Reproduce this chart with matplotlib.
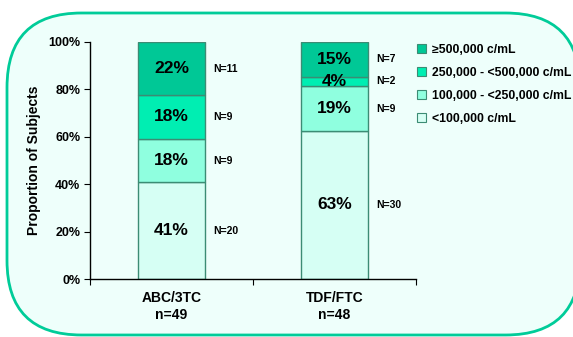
import matplotlib
matplotlib.use("Agg")
import matplotlib.pyplot as plt
from matplotlib.patches import FancyBboxPatch, Patch
import numpy as np

plt.rcParams['font.family'] = ['Liberation Sans', 'DejaVu Sans']
plt.rcParams['font.weight'] = 'bold'

groups = ["ABC/3TC\nn=49", "TDF/FTC\nn=48"]
group_n = [49, 48]
categories = ["<100,000 c/mL", "100,000 - <250,000 c/mL",
              "250,000 - <500,000 c/mL", "\u2265500,000 c/mL"]
counts = {
    "<100,000 c/mL": [20, 30],
    "100,000 - <250,000 c/mL": [9, 9],
    "250,000 - <500,000 c/mL": [9, 2],
    "\u2265500,000 c/mL": [11, 7],
}
pct_labels = {
    "<100,000 c/mL": ["41%", "63%"],
    "100,000 - <250,000 c/mL": ["18%", "19%"],
    "250,000 - <500,000 c/mL": ["18%", "4%"],
    "\u2265500,000 c/mL": ["22%", "15%"],
}
yticks = [0, 20, 40, 60, 80, 100]
ytick_labels = ["0%", "20%", "40%", "60%", "80%", "100%"]

colors = {
    "<100,000 c/mL": "#D6FFF4",
    "100,000 - <250,000 c/mL": "#8FFFDF",
    "250,000 - <500,000 c/mL": "#00EEB2",
    "\u2265500,000 c/mL": "#00C896",
}
edge = "#3C8C74"

W, H = 573, 337
fig = plt.figure(figsize=(W / 100, H / 100), dpi=100)
fig.patch.set_facecolor("white")

# rounded panel
panel = FancyBboxPatch((7 / W, 1 - 335 / H), (580 - 7) / W, (335 - 13) / H,
                       boxstyle="round,pad=0,rounding_size=0.13",
                       transform=fig.transFigure, facecolor="#EEFFFB",
                       edgecolor="#00CC99", linewidth=2.0, zorder=-10,
                       mutation_aspect=W / H)
fig.patches.append(panel)

ax = fig.add_axes([90 / W, 1 - 279 / H, (416 - 90) / W, (279 - 42) / H])
ax.set_facecolor("none")
ax.set_zorder(1)

x = np.array([0.5, 1.5])
bottom = np.zeros(2)
for cat in categories:
    vals = np.array(counts[cat]) / np.array(group_n) * 100
    ax.bar(x, vals, width=0.405, bottom=bottom, color=colors[cat],
           edgecolor=edge, linewidth=1.0, label=cat, zorder=2)
    for i in range(2):
        yc = bottom[i] + vals[i] / 2
        ax.text(x[i], yc, pct_labels[cat][i], ha="center", va="center",
                fontsize=12.5, fontweight="bold", zorder=3)
        ax.annotate(f"N={counts[cat][i]}", xy=(x[i] + 0.2025, yc),
                    xytext=(6, 0), textcoords="offset points",
                    ha="left", va="center", fontsize=7.5, fontweight="bold")
    bottom = bottom + vals

ax.set_xlim(0, 2)
ax.set_ylim(0, 100)
ax.set_yticks(yticks)
ax.set_yticklabels(ytick_labels, fontsize=9, fontweight="bold")
ax.set_xticks([0, 1, 2])
ax.set_xticklabels([])
ax.set_xticks(x, minor=True)
ax.set_xticklabels(groups, minor=True, fontsize=10, fontweight="bold")
ax.tick_params(axis="x", which="minor", length=0, pad=9)
ax.tick_params(axis="x", which="major", length=4, direction="out")
ax.tick_params(axis="y", length=4, direction="out", pad=3)
for s in ["top", "right"]:
    ax.spines[s].set_visible(False)
for s in ["left", "bottom"]:
    ax.spines[s].set_linewidth(1.0)
ax.spines["bottom"].set_bounds(0, 2)

ax.set_ylabel("Proportion of Subjects", fontsize=10, fontweight="bold",
              labelpad=5)

handles = [Patch(facecolor=colors[c], edgecolor=edge, linewidth=0.8)
           for c in categories[::-1]]
leg = fig.legend(handles, categories[::-1], loc="upper left",
                 bbox_to_anchor=(406 / W, 1 - 33 / H), frameon=False,
                 handlelength=0.75, handleheight=0.75,
                 handletextpad=0.5, labelspacing=0.9,
                 prop={"weight": "bold", "size": 8.8})

fig.savefig("out.png", dpi=100)
